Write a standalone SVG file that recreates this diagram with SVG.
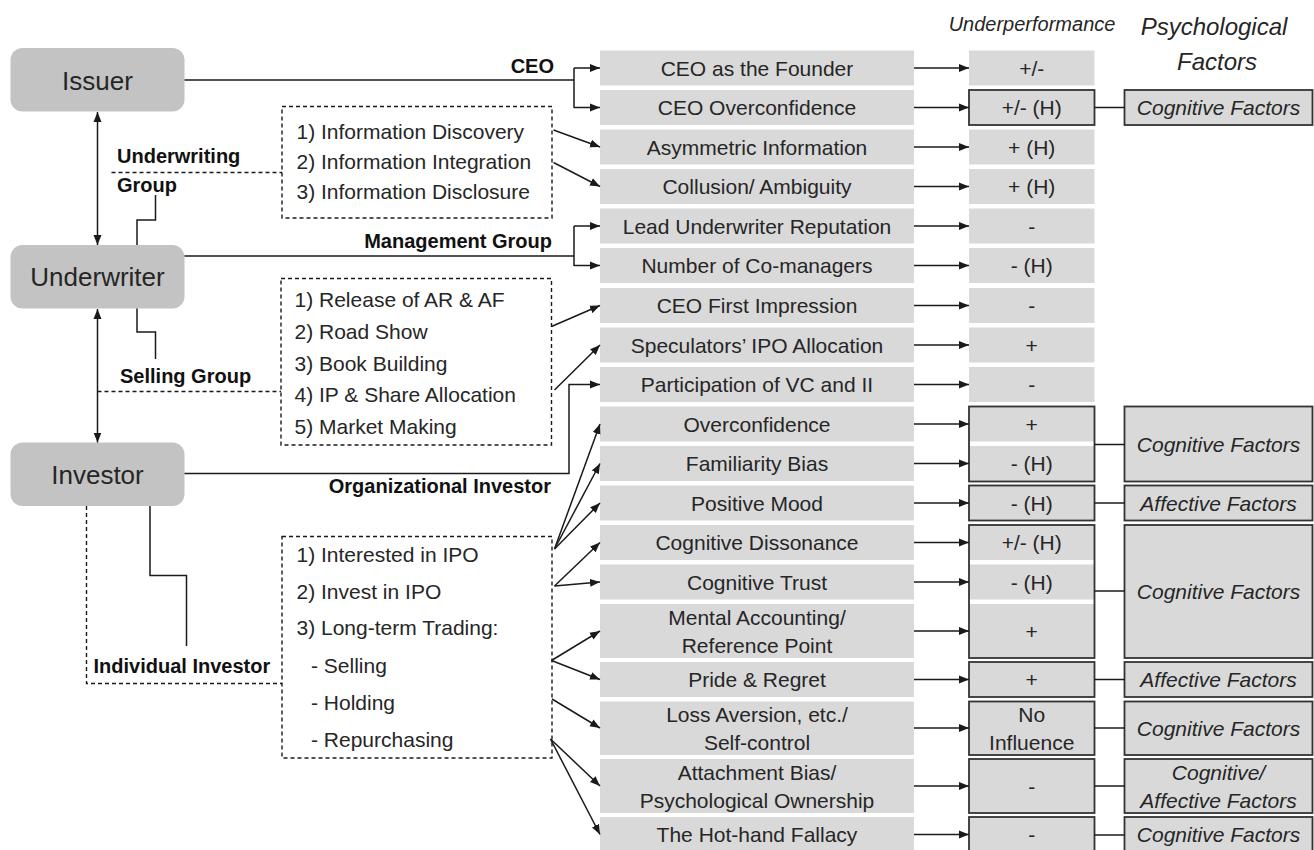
<svg xmlns="http://www.w3.org/2000/svg" width="1314" height="850" viewBox="0 0 1314 850">
  <style>
    text { font-family: "Liberation Sans", Arial, sans-serif; fill: #262626; }
    .node rect { fill: #c3c3c3; }
    .nt { font-size: 26px; text-anchor: middle; }
    .box { fill: #d9d9d9; }
    .bt { font-size: 21px; text-anchor: middle; }
    .fac { font-size: 21px; font-style: italic; text-anchor: middle; }
    .lbl { font-size: 20px; font-weight: bold; fill: #111; }
    .lst { font-size: 21px; }
    .bord { fill: none; stroke: #333; stroke-width: 1.8; }
    .ln { fill: none; stroke: #1a1a1a; stroke-width: 1.5; }
    .arr { marker-end: url(#ah); }
    .dbl { marker-start: url(#ah); marker-end: url(#ah); }
    .dash { fill: none; stroke: #1a1a1a; stroke-width: 1.4; stroke-dasharray: 4 3; }
  </style>
  <defs>
    <marker id="ah" markerUnits="userSpaceOnUse" markerWidth="11" markerHeight="9" refX="10" refY="4.5" orient="auto-start-reverse">
      <path d="M0,0.5 L10,4.5 L0,8.5 z" fill="#1a1a1a"/>
    </marker>
  </defs>

  <!-- column headers -->
  <g id="headers">
    <text x="1032" y="31" class="fac" style="font-size:20px">Underperformance</text>
    <text x="1214" y="35" class="fac" style="font-size:24px">Psychological</text>
    <text x="1217" y="70" class="fac" style="font-size:24px">Factors</text>
  </g>

  <!-- parties -->
  <g id="issuer" class="node">
    <rect x="10.5" y="48" width="174" height="63.5" rx="12"/>
    <text x="97.5" y="89.5" class="nt">Issuer</text>
  </g>
  <g id="underwriter" class="node">
    <rect x="10.5" y="245" width="174" height="63.5" rx="12"/>
    <text x="97.5" y="286" class="nt">Underwriter</text>
  </g>
  <g id="investor" class="node">
    <rect x="10.5" y="442.5" width="174" height="63.5" rx="12"/>
    <text x="97.5" y="483.5" class="nt">Investor</text>
  </g>

  <!-- activity lists -->
  <g id="underwriting-list">
    <rect x="282" y="106.5" width="270" height="111.5" class="dash"/>
    <text x="296.5" y="138.5" class="lst">1) Information Discovery</text>
    <text x="296.5" y="168.5" class="lst">2) Information Integration</text>
    <text x="296.5" y="198.5" class="lst">3) Information Disclosure</text>
  </g>
  <g id="selling-list">
    <rect x="281" y="278.5" width="270.5" height="166.5" class="dash"/>
    <text x="294.5" y="306.5" class="lst">1) Release of AR &amp; AF</text>
    <text x="294.5" y="339" class="lst">2) Road Show</text>
    <text x="294.5" y="370.5" class="lst">3) Book Building</text>
    <text x="294.5" y="401.5" class="lst">4) IP &amp; Share Allocation</text>
    <text x="294.5" y="434" class="lst">5) Market Making</text>
  </g>
  <g id="individual-list">
    <rect x="282" y="536.5" width="270" height="221.5" class="dash"/>
    <text x="296.5" y="561.5" class="lst">1) Interested in IPO</text>
    <text x="296.5" y="598.5" class="lst">2) Invest in IPO</text>
    <text x="296.5" y="635" class="lst">3) Long-term Trading:</text>
    <text x="311" y="673" class="lst">- Selling</text>
    <text x="311" y="710" class="lst">- Holding</text>
    <text x="311" y="746.5" class="lst">- Repurchasing</text>
  </g>

  <!-- group labels -->
  <g id="labels">
    <text x="554" y="72.5" class="lbl" text-anchor="end">CEO</text>
    <text x="117" y="163" class="lbl">Underwriting</text>
    <text x="117" y="191.5" class="lbl">Group</text>
    <text x="552" y="248" class="lbl" text-anchor="end">Management Group</text>
    <text x="120" y="383" class="lbl">Selling Group</text>
    <text x="551" y="493" class="lbl" text-anchor="end">Organizational Investor</text>
    <text x="93.5" y="673" class="lbl">Individual Investor</text>
  </g>

  <!-- determinants -->
  <g id="determinants">
    <g id="d1"><rect class="box" x="600" y="50.5" width="314" height="35"/><text class="bt" x="757" y="75.5">CEO as the Founder</text></g>
    <g id="d2"><rect class="box" x="600" y="90" width="314" height="35"/><text class="bt" x="757" y="115">CEO Overconfidence</text></g>
    <g id="d3"><rect class="box" x="600" y="129.5" width="314" height="35"/><text class="bt" x="757" y="154.5">Asymmetric Information</text></g>
    <g id="d4"><rect class="box" x="600" y="169" width="314" height="35"/><text class="bt" x="757" y="194">Collusion/ Ambiguity</text></g>
    <g id="d5"><rect class="box" x="600" y="208.5" width="314" height="35"/><text class="bt" x="757" y="233.5">Lead Underwriter Reputation</text></g>
    <g id="d6"><rect class="box" x="600" y="248" width="314" height="35"/><text class="bt" x="757" y="273">Number of Co-managers</text></g>
    <g id="d7"><rect class="box" x="600" y="288" width="314" height="35"/><text class="bt" x="757" y="313">CEO First Impression</text></g>
    <g id="d8"><rect class="box" x="600" y="327.5" width="314" height="35"/><text class="bt" x="757" y="352.5">Speculators’ IPO Allocation</text></g>
    <g id="d9"><rect class="box" x="600" y="367" width="314" height="35"/><text class="bt" x="757" y="392">Participation of VC and II</text></g>
    <g id="d10"><rect class="box" x="600" y="406.5" width="314" height="35"/><text class="bt" x="757" y="431.5">Overconfidence</text></g>
    <g id="d11"><rect class="box" x="600" y="446" width="314" height="35"/><text class="bt" x="757" y="471">Familiarity Bias</text></g>
    <g id="d12"><rect class="box" x="600" y="485.5" width="314" height="35"/><text class="bt" x="757" y="510.5">Positive Mood</text></g>
    <g id="d13"><rect class="box" x="600" y="525" width="314" height="35"/><text class="bt" x="757" y="550">Cognitive Dissonance</text></g>
    <g id="d14"><rect class="box" x="600" y="564.5" width="314" height="35"/><text class="bt" x="757" y="589.5">Cognitive Trust</text></g>
    <g id="d15"><rect class="box" x="600" y="604" width="314" height="54"/><text class="bt" x="757" y="624.5">Mental Accounting/</text><text class="bt" x="757" y="652.5">Reference Point</text></g>
    <g id="d16"><rect class="box" x="600" y="662" width="314" height="35"/><text class="bt" x="757" y="687">Pride &amp; Regret</text></g>
    <g id="d17"><rect class="box" x="600" y="701.5" width="314" height="53.5"/><text class="bt" x="757" y="721.5">Loss Aversion, etc./</text><text class="bt" x="757" y="749.5">Self-control</text></g>
    <g id="d18"><rect class="box" x="600" y="759" width="314" height="54"/><text class="bt" x="757" y="779.5">Attachment Bias/</text><text class="bt" x="757" y="807.5">Psychological Ownership</text></g>
    <g id="d19"><rect class="box" x="600" y="817" width="314" height="36"/><text class="bt" x="757" y="842">The Hot-hand Fallacy</text></g>
  </g>

  <!-- underperformance effects -->
  <g id="effects">
    <g id="e1"><rect class="box" x="969" y="50.5" width="125.5" height="35"/><text class="bt" x="1031.7" y="75.5">+/-</text></g>
    <g id="e2"><rect class="box" x="969" y="90" width="125.5" height="35"/><rect class="bord" x="969" y="90" width="125.5" height="35"/><text class="bt" x="1031.7" y="115">+/- (H)</text></g>
    <g id="e3"><rect class="box" x="969" y="129.5" width="125.5" height="35"/><text class="bt" x="1031.7" y="154.5">+ (H)</text></g>
    <g id="e4"><rect class="box" x="969" y="169" width="125.5" height="35"/><text class="bt" x="1031.7" y="194">+ (H)</text></g>
    <g id="e5"><rect class="box" x="969" y="208.5" width="125.5" height="35"/><text class="bt" x="1031.7" y="233.5">-</text></g>
    <g id="e6"><rect class="box" x="969" y="248" width="125.5" height="35"/><text class="bt" x="1031.7" y="273">- (H)</text></g>
    <g id="e7"><rect class="box" x="969" y="288" width="125.5" height="35"/><text class="bt" x="1031.7" y="313">-</text></g>
    <g id="e8"><rect class="box" x="969" y="327.5" width="125.5" height="35"/><text class="bt" x="1031.7" y="352.5">+</text></g>
    <g id="e9"><rect class="box" x="969" y="367" width="125.5" height="35"/><text class="bt" x="1031.7" y="392">-</text></g>
    <g id="e10-11">
      <rect class="box" x="969" y="406.5" width="125.5" height="35"/><text class="bt" x="1031.7" y="431.5">+</text>
      <rect class="box" x="969" y="446" width="125.5" height="35"/><text class="bt" x="1031.7" y="471">- (H)</text>
      <rect class="bord" x="969" y="406.5" width="125.5" height="75"/>
    </g>
    <g id="e12"><rect class="box" x="969" y="485.5" width="125.5" height="35"/><rect class="bord" x="969" y="485.5" width="125.5" height="35"/><text class="bt" x="1031.7" y="510.5">- (H)</text></g>
    <g id="e13-15">
      <rect class="box" x="969" y="525" width="125.5" height="35"/><text class="bt" x="1031.7" y="550">+/- (H)</text>
      <rect class="box" x="969" y="564.5" width="125.5" height="35"/><text class="bt" x="1031.7" y="589.5">- (H)</text>
      <rect class="box" x="969" y="604" width="125.5" height="54"/><text class="bt" x="1031.7" y="638.5">+</text>
      <rect class="bord" x="969" y="525" width="125.5" height="133"/>
    </g>
    <g id="e16"><rect class="box" x="969" y="662" width="125.5" height="35"/><rect class="bord" x="969" y="662" width="125.5" height="35"/><text class="bt" x="1031.7" y="687">+</text></g>
    <g id="e17"><rect class="box" x="969" y="701.5" width="125.5" height="53.5"/><rect class="bord" x="969" y="701.5" width="125.5" height="53.5"/><text class="bt" x="1031.7" y="721.5">No</text><text class="bt" x="1031.7" y="749.5">Influence</text></g>
    <g id="e18"><rect class="box" x="969" y="759" width="125.5" height="54"/><rect class="bord" x="969" y="759" width="125.5" height="54"/><text class="bt" x="1031.7" y="793.5">-</text></g>
    <g id="e19"><rect class="box" x="969" y="817" width="125.5" height="36"/><rect class="bord" x="969" y="817" width="125.5" height="36"/><text class="bt" x="1031.7" y="842">-</text></g>
  </g>

  <!-- psychological factor classes -->
  <g id="factors">
    <g id="f2"><rect class="box" x="1124.5" y="90" width="188" height="35"/><rect class="bord" x="1124.5" y="90" width="188" height="35"/><text class="fac" x="1218.5" y="115">Cognitive Factors</text></g>
    <g id="f10"><rect class="box" x="1124.5" y="406.5" width="188" height="75"/><rect class="bord" x="1124.5" y="406.5" width="188" height="75"/><text class="fac" x="1218.5" y="451.5">Cognitive Factors</text></g>
    <g id="f12"><rect class="box" x="1124.5" y="485.5" width="188" height="35"/><rect class="bord" x="1124.5" y="485.5" width="188" height="35"/><text class="fac" x="1218.5" y="510.5">Affective Factors</text></g>
    <g id="f13"><rect class="box" x="1124.5" y="525" width="188" height="133"/><rect class="bord" x="1124.5" y="525" width="188" height="133"/><text class="fac" x="1218.5" y="599">Cognitive Factors</text></g>
    <g id="f16"><rect class="box" x="1124.5" y="662" width="188" height="35"/><rect class="bord" x="1124.5" y="662" width="188" height="35"/><text class="fac" x="1218.5" y="687">Affective Factors</text></g>
    <g id="f17"><rect class="box" x="1124.5" y="701.5" width="188" height="53.5"/><rect class="bord" x="1124.5" y="701.5" width="188" height="53.5"/><text class="fac" x="1218.5" y="735.5">Cognitive Factors</text></g>
    <g id="f18"><rect class="box" x="1124.5" y="759" width="188" height="54"/><rect class="bord" x="1124.5" y="759" width="188" height="54"/><text class="fac" x="1218.5" y="779.5">Cognitive/</text><text class="fac" x="1218.5" y="807.5">Affective Factors</text></g>
    <g id="f19"><rect class="box" x="1124.5" y="817" width="188" height="36"/><rect class="bord" x="1124.5" y="817" width="188" height="36"/><text class="fac" x="1218.5" y="842">Cognitive Factors</text></g>
  </g>

  <!-- connectors -->
  <g id="connectors">
    <!-- issuer: CEO bracket -->
    <path class="ln" d="M184.5,80 H574 M574,68 V108"/>
    <path class="ln arr" d="M574,68 H600"/>
    <path class="ln arr" d="M574,107.5 H600"/>
    <!-- issuer / underwriter / investor -->
    <path class="ln dbl" d="M97.5,112 V245"/>
    <path class="ln dbl" d="M97.5,309 V442.5"/>
    <!-- underwriting group -->
    <path class="dash" d="M111.5,172.5 H282"/>
    <path class="ln" d="M137,245 V220 H155.5 V195"/>
    <path class="ln arr" d="M553.5,130 L600,147"/>
    <path class="ln arr" d="M553.5,162.5 L600,186.5"/>
    <!-- management group bracket -->
    <path class="ln" d="M184.5,256 H574 M574,226 V266"/>
    <path class="ln arr" d="M574,226 H600"/>
    <path class="ln arr" d="M574,265.5 H600"/>
    <!-- selling group -->
    <path class="ln" d="M137,308.5 V332 H155.5 V359"/>
    <path class="dash" d="M97.5,391.5 H281"/>
    <path class="ln arr" d="M551.5,326.5 L600,305.5"/>
    <path class="ln arr" d="M554.5,390 L600,345"/>
    <!-- organizational investor -->
    <path class="ln arr" d="M184.5,473.5 H569 V384.5 H600"/>
    <!-- individual investor -->
    <path class="dash" d="M86.5,506 V683.5 H282"/>
    <path class="ln" d="M150,506 V575.5 H186.5 V646"/>
    <path class="ln arr" d="M554.5,549 L600,424"/>
    <path class="ln arr" d="M554.5,549 L600,463.5"/>
    <path class="ln arr" d="M554.5,549 L600,503"/>
    <path class="ln arr" d="M554.5,586 L600,542.5"/>
    <path class="ln arr" d="M554.5,586 L600,582"/>
    <path class="ln arr" d="M551.5,660.5 L600,631"/>
    <path class="ln arr" d="M551.5,660.5 L600,679.5"/>
    <path class="ln arr" d="M552,699 L600,728"/>
    <path class="ln arr" d="M550.5,739 L600,786"/>
    <path class="ln arr" d="M550.5,739 L600,834.5"/>
    <!-- determinant to effect -->
    <path class="ln arr" d="M914,68 H969"/>
    <path class="ln arr" d="M914,107.5 H969"/>
    <path class="ln arr" d="M914,147 H969"/>
    <path class="ln arr" d="M914,186.5 H969"/>
    <path class="ln arr" d="M914,226 H969"/>
    <path class="ln arr" d="M914,265.5 H969"/>
    <path class="ln arr" d="M914,305.5 H969"/>
    <path class="ln arr" d="M914,345 H969"/>
    <path class="ln arr" d="M914,384.5 H969"/>
    <path class="ln arr" d="M914,424 H969"/>
    <path class="ln arr" d="M914,463.5 H969"/>
    <path class="ln arr" d="M914,503 H969"/>
    <path class="ln arr" d="M914,542.5 H969"/>
    <path class="ln arr" d="M914,582 H969"/>
    <path class="ln arr" d="M914,631 H969"/>
    <path class="ln arr" d="M914,679.5 H969"/>
    <path class="ln arr" d="M914,728 H969"/>
    <path class="ln arr" d="M914,786 H969"/>
    <path class="ln arr" d="M914,834.5 H969"/>
    <!-- effect to factor class -->
    <path class="ln" d="M1094.5,107.5 H1124.5"/>
    <path class="ln" d="M1094.5,444.5 H1124.5"/>
    <path class="ln" d="M1094.5,503 H1124.5"/>
    <path class="ln" d="M1094.5,591 H1124.5"/>
    <path class="ln" d="M1094.5,679.5 H1124.5"/>
    <path class="ln" d="M1094.5,728 H1124.5"/>
    <path class="ln" d="M1094.5,786 H1124.5"/>
    <path class="ln" d="M1094.5,835 H1124.5"/>
  </g>
</svg>
